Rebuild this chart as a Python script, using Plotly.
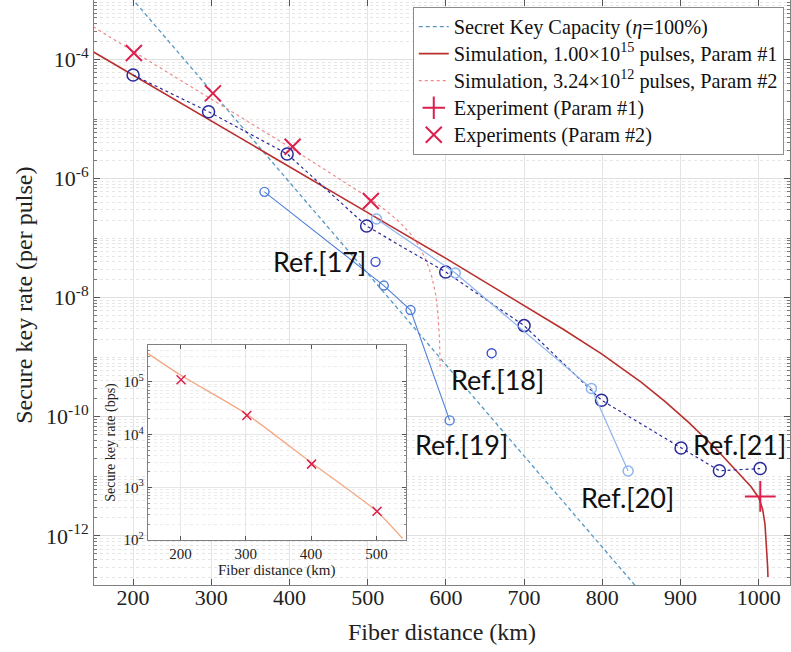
import plotly.graph_objects as go

# ---------------- data ----------------
plob_km = [180, 500, 860]
plob_rate = [2.04e-3, 2.51e-8, 7.76e-14]

sim1_km = [149, 196, 260, 400, 500, 600, 700, 750, 800, 850, 880, 910, 944, 970, 990,
           1000, 1005, 1008, 1010, 1011.3, 1011.8]
sim1_rate = [1.35e-4, 5.89e-5, 1.91e-5, 1.58e-6, 2.69e-7, 4.57e-8, 7.41e-9, 2.95e-9,
             1.12e-9, 3.80e-10, 1.82e-10, 8.13e-11, 3.02e-11, 1.32e-11, 6.76e-12,
             4.37e-12, 2.82e-12, 1.58e-12, 7.08e-13, 3.16e-13, 2.04e-13]

sim2_km = [149, 200, 300, 400, 500, 520, 540, 555, 565, 575, 582, 587, 590, 591.8, 592.6]
sim2_rate = [3.55e-4, 1.38e-4, 2.19e-5, 3.39e-6, 4.90e-7, 3.16e-7, 1.91e-7, 1.17e-7,
             7.59e-8, 4.17e-8, 2.24e-8, 1.12e-8, 5.01e-9, 2.00e-9, 6.92e-10]

exp1_km = [1002]
exp1_rate = [4.6e-12]

exp2_km = [201, 302, 404, 504]
exp2_rate = [1.29e-4, 2.70e-5, 3.44e-6, 4.21e-7]

ref21_km = [200, 296.5, 397, 498.6, 599.7, 700, 799, 900.7, 949.7, 1001.8]
ref21_rate = [5.5e-5, 1.33e-5, 2.6e-6, 1.6e-7, 2.7e-8, 3.4e-9, 1.9e-10, 3.0e-11, 1.24e-11, 1.35e-11]

ref20_km = [511.3, 612, 786, 833]
ref20_rate = [2.1e-7, 2.6e-8, 3.0e-10, 1.23e-11]

ref19_km = [368, 520.6, 554.8, 604.8]
ref19_rate = [6.0e-7, 1.6e-8, 6.2e-9, 8.7e-11]

ref18_km = [658.5]
ref18_rate = [1.17e-9]

ref17_km = [510]
ref17_rate = [4.0e-8]

# inset (bps)
inset_line_km = [150, 200, 300, 400, 500, 540]
inset_line_bps = [3.47e5, 1.35e5, 2.51e4, 2.95e3, 355, 107]
inset_exp_km = [201, 301.7, 400.8, 501]
inset_exp_bps = [1.1e5, 2.3e4, 2.75e3, 3.5e2]

x_ticks = [200, 300, 400, 500, 600, 700, 800, 900, 1000]
y_tick_exps = [-12, -10, -8, -6, -4]
inset_x_ticks = [200, 300, 400, 500]
inset_y_tick_exps = [2, 3, 4, 5]

legend_names = ["Secret Key Capacity (<i>η</i>=100%)",
                "Simulation, 1.00×10<sup>15</sup> pulses, Param #1",
                "Simulation, 3.24×10<sup>12</sup> pulses, Param #2",
                "Experiment (Param #1)",
                "Experiments (Param #2)"]

ref_labels = ["Ref.[17]", "Ref.[18]", "Ref.[19]", "Ref.[20]", "Ref.[21]"]
ref_label_km = [438, 666, 620, 832, 976]
ref_label_log = [-7.40, -9.38, -10.47, -11.35, -10.47]

# ---------------- styling ----------------
SERIF = "Liberation Serif, Times New Roman, serif"
C_PLOB = "#5597c4"
C_SIM1 = "#b8302e"
C_SIM2 = "#f08a8a"
C_EXP = "#dc1f4c"
C_R21 = "#2a2a9c"
C_R20 = "#8fb5ee"
C_R19 = "#4f7fd8"
C_R18 = "#3a4fd0"
C_INSET = "#f4a882"

def leg(name):
    return '<span style="font-size:20.3px">' + name + '</span>'

fig = go.Figure()

fig.add_trace(go.Scatter(x=plob_km, y=plob_rate, mode="lines",
                         line=dict(color=C_PLOB, width=1.3, dash="4px,3px"),
                         name=leg(legend_names[0])))
fig.add_trace(go.Scatter(x=sim1_km, y=sim1_rate, mode="lines",
                         line=dict(color=C_SIM1, width=1.6),
                         name=leg(legend_names[1])))
fig.add_trace(go.Scatter(x=sim2_km, y=sim2_rate, mode="lines",
                         line=dict(color=C_SIM2, width=1.2, dash="dot"),
                         name=leg(legend_names[2])))
fig.add_trace(go.Scatter(x=exp1_km, y=exp1_rate, mode="markers",
                         marker=dict(symbol="cross-thin-open", size=22, color=C_EXP,
                                     line=dict(color=C_EXP, width=2)),
                         name=leg(legend_names[3])))
fig.add_trace(go.Scatter(x=exp2_km, y=exp2_rate, mode="markers",
                         marker=dict(symbol="x-thin-open", size=16, color=C_EXP,
                                     line=dict(color=C_EXP, width=2)),
                         name=leg(legend_names[4])))

fig.add_trace(go.Scatter(x=ref21_km, y=ref21_rate, mode="lines+markers",
                         line=dict(color=C_R21, width=1.2, dash="dot"),
                         marker=dict(symbol="circle-open", size=12, color=C_R21,
                                     line=dict(color=C_R21, width=1.5)),
                         showlegend=False))
fig.add_trace(go.Scatter(x=ref20_km, y=ref20_rate, mode="lines+markers",
                         line=dict(color=C_R20, width=1.2),
                         marker=dict(symbol="circle-open", size=10, color=C_R20,
                                     line=dict(color=C_R20, width=1.5)),
                         showlegend=False))
fig.add_trace(go.Scatter(x=ref19_km, y=ref19_rate, mode="lines+markers",
                         line=dict(color=C_R19, width=1.1),
                         marker=dict(symbol="circle-open", size=9, color=C_R19,
                                     line=dict(color=C_R19, width=1.4)),
                         showlegend=False))
fig.add_trace(go.Scatter(x=ref18_km + ref17_km, y=ref18_rate + ref17_rate, mode="markers",
                         marker=dict(symbol="circle-open", size=9, color=C_R18,
                                     line=dict(color=C_R18, width=1.4)),
                         showlegend=False))

# inset
fig.add_trace(go.Scatter(x=inset_line_km, y=inset_line_bps, mode="lines",
                         line=dict(color=C_INSET, width=1.3, shape="spline", smoothing=0.6),
                         xaxis="x2", yaxis="y2", showlegend=False))
fig.add_trace(go.Scatter(x=inset_exp_km, y=inset_exp_bps, mode="markers",
                         marker=dict(symbol="x-thin-open", size=9, color=C_EXP,
                                     line=dict(color=C_EXP, width=1.5)),
                         xaxis="x2", yaxis="y2", showlegend=False))

def minor_vals(lo, hi, majors):
    vals = []
    for e in range(lo, hi):
        for k in range(1, 10):
            if k == 1 and e in majors:
                continue
            vals.append(k * 10.0 ** e)
    return vals

main_minor = minor_vals(-13, -2, y_tick_exps)
inset_minor = minor_vals(1, 6, inset_y_tick_exps)

for lab, xk, yl in zip(ref_labels, ref_label_km, ref_label_log):
    fig.add_annotation(x=xk, y=yl, xref="x", yref="y", text=lab, showarrow=False,
                       font=dict(family="Lato", size=27, color="#111111"),
                       xanchor="center", yanchor="middle")

fig.add_annotation(x=-0.1006, y=0.496, xref="paper", yref="paper",
                   text="Secure key rate (per pulse)", textangle=-90, showarrow=False,
                   font=dict(family=SERIF, size=24, color="#222"),
                   xanchor="center", yanchor="middle")
fig.add_annotation(x=0.5, y=-0.080, xref="paper", yref="paper",
                   text="Fiber distance (km)", showarrow=False,
                   font=dict(family=SERIF, size=24, color="#222"),
                   xanchor="center", yanchor="middle")

axis_common = dict(showline=True, linecolor="#808080", linewidth=1, mirror="ticks",
                   ticks="inside", tickcolor="#555555", zeroline=False)

fig.update_layout(
    width=791, height=652,
    margin=dict(l=94, r=1, t=0, b=67, pad=0, autoexpand=False),
    font=dict(family=SERIF, color="#222"),
    paper_bgcolor="white", plot_bgcolor="white",
    xaxis=dict(range=[150, 1040], tickvals=x_ticks, ticklen=6,
               showgrid=True, gridcolor="#e4e4e4", gridwidth=1,
               ticklabelstandoff=-7,
               tickfont=dict(family=SERIF, size=22, color="#222"),
               **axis_common),
    yaxis=dict(type="log", range=[-12.825, -3.0],
               tickvals=[10.0 ** e for e in y_tick_exps],
               ticktext=["10<sup>%d</sup>" % e for e in y_tick_exps],
               ticklen=6, showgrid=True, gridcolor="#e0e0e0", gridwidth=1,
               tickfont=dict(family=SERIF, size=22, color="#222"),
               minor=dict(tickvals=main_minor, ticks="inside", ticklen=3,
                          tickcolor="#777", showgrid=True, gridcolor="#e6e6e6",
                          griddash="dot", gridwidth=1),
               **axis_common),
    xaxis2=dict(domain=[0.0772, 0.448], anchor="y2", range=[150, 545],
                tickvals=inset_x_ticks, ticklen=4, showgrid=True,
                gridcolor="#e6e6e6",
                tickfont=dict(family=SERIF, size=15, color="#222"),
                title=dict(text="Fiber distance (km)", standoff=2,
                           font=dict(family=SERIF, size=15, color="#222")),
                **axis_common),
    yaxis2=dict(domain=[0.0769, 0.4103], anchor="x2", type="log", range=[2, 5.7],
                tickvals=[10.0 ** e for e in inset_y_tick_exps],
                ticktext=["10<sup>%d</sup>" % e for e in inset_y_tick_exps],
                ticklen=4, showgrid=True, gridcolor="#e6e6e6",
                tickfont=dict(family=SERIF, size=15, color="#222"),
                minor=dict(tickvals=inset_minor, ticks="inside", ticklen=2,
                           tickcolor="#888", showgrid=True, gridcolor="#ececec",
                           griddash="dot"),
                title=dict(text="Secure key rate (bps)", standoff=4,
                           font=dict(family=SERIF, size=14, color="#222")),
                **axis_common),
    legend=dict(x=0.458, y=0.988, xanchor="left", yanchor="top",
                bgcolor="white", bordercolor="#8c8c8c", borderwidth=1,
                font=dict(family=SERIF, size=18.5, color="#111"),
                itemwidth=30, tracegroupgap=0),
    showlegend=True,
)

fig.write_html("out.html", config={"displayModeBar": False},
               post_script="document.body.style.margin='0';")
